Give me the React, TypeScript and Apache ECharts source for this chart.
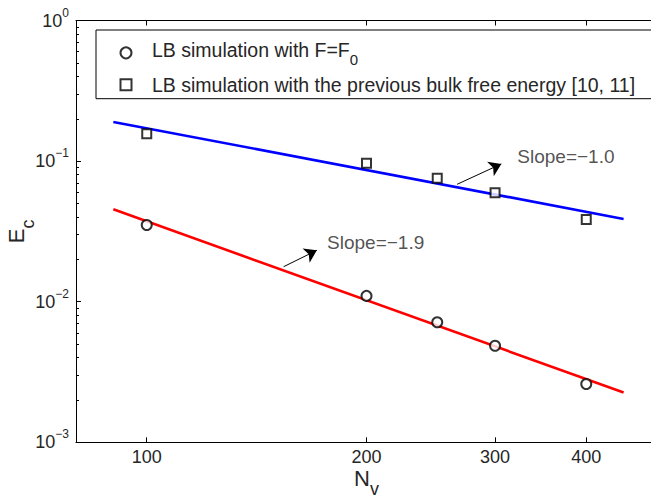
import React, { useEffect, useRef } from 'react';
import * as echarts from 'echarts';

// ---- data ----
const circleN = [100, 200, 250, 300, 400];
const circleE = [0.0351, 0.011, 0.00714, 0.00486, 0.0026];
const squareN = [100, 200, 250, 300, 400];
const squareE = [0.1566, 0.0965, 0.0754, 0.0596, 0.0384];
const fitN = [90, 450];
const fitRedE = [0.0454, 0.00226];
const fitBlueE = [0.19, 0.0388];

const xRange = [80, 500];
const yRange = [0.001, 1];
const xTicks = [100, 200, 300, 400];
const yMajor = [0.001, 0.01, 0.1, 1];
const yMinor = [
  0.002, 0.003, 0.004, 0.005, 0.006, 0.007, 0.008, 0.009,
  0.02, 0.03, 0.04, 0.05, 0.06, 0.07, 0.08, 0.09,
  0.2, 0.3, 0.4, 0.5, 0.6, 0.7, 0.8, 0.9,
];

const legendNames = [
  'LB simulation with F=F0',
  'LB simulation with the previous bulk free energy [10, 11]',
];

const slopeLabels = ['Slope=\u22121.0', 'Slope=\u22121.9'];
const slopeLabelN = [321.8, 176.6];
const slopeLabelE = [0.1087, 0.0263];
const arrowFromN = [266.2, 154.0];
const arrowFromE = [0.0684, 0.01774];
const arrowToN = [306.0, 171.0];
const arrowToE = [0.0955, 0.0232];

const L = (v: number) => Math.log10(v);
const pts = (xs: number[], ys: number[]) => xs.map((x, i) => [L(x), L(ys[i])]);

const FONT = '"Liberation Sans", Arial, Helvetica, sans-serif';
const TXT = '#262626';

export default function App() {
  const ref = useRef<HTMLDivElement>(null);
  useEffect(() => {
    if (!ref.current) return;
    const chart = echarts.init(ref.current, null, { renderer: 'svg' });
    const xTickPos = xTicks.map(L);
    const yMajorPos = yMajor.map(L);
    const yMinorPos = yMinor.map(L);

    const axisLineStyle = { color: '#000', width: 1 };
    const xBase = {
      type: 'value',
      min: L(xRange[0]),
      max: L(xRange[1]),
      splitLine: { show: false },
      axisLine: { show: true, onZero: false, lineStyle: axisLineStyle },
      axisTick: { show: true, inside: true, length: 5, customValues: xTickPos, lineStyle: axisLineStyle },
    };
    const yBase = {
      type: 'value',
      min: L(yRange[0]),
      max: L(yRange[1]),
      splitLine: { show: false },
    };

    const option: any = {
      animation: false,
      backgroundColor: '#fff',
      textStyle: { fontFamily: FONT },
      grid: {
        left: 76,
        top: 20.5,
        right: 15,
        bottom: 55.7,
        containLabel: false,
        outerBoundsMode: 'none',
      },
      legend: {
        show: true,
        orient: 'vertical',
        left: 96,
        top: 30,
        itemWidth: 11,
        itemHeight: 11,
        itemGap: 8,
        padding: [9, 60, 4, 23.5],
        borderColor: '#000',
        borderWidth: 1,
        backgroundColor: '#fff',
        selectedMode: false,
        data: legendNames,
        textStyle: {
          color: TXT,
          fontSize: 19.5,
          fontFamily: FONT,
          rich: {
            t1: { fontSize: 19.5, lineHeight: 22, color: TXT, fontFamily: FONT, padding: [0, 0, 6.6, 15.5] },
            s: { fontSize: 15, lineHeight: 22, color: TXT, fontFamily: FONT, padding: [12.7, 0, 0, 0] },
            t2: { fontSize: 19.5, lineHeight: 22, color: TXT, fontFamily: FONT, padding: [0, 0, 0, 15.5] },
          },
        },
        formatter: (name: string) =>
          name === legendNames[0] ? '{t1|LB simulation with F=F}{s|0}' : `{t2|${name}}`,
      },
      xAxis: [
        {
          ...xBase,
          position: 'bottom',
          axisLabel: {
            show: true,
            customValues: xTickPos,
            margin: 6,
            fontSize: 18,
            color: TXT,
            fontFamily: FONT,
            formatter: (v: number) => String(Math.round(Math.pow(10, v))),
          },
          name: '{a|N}{s|v}',
          nameLocation: 'middle',
          nameGap: 23,
          nameMoveOverlap: false,
          nameTextStyle: {
            color: TXT,
            rich: {
              a: { fontSize: 22, lineHeight: 26, color: TXT, fontFamily: FONT },
              s: { fontSize: 18, lineHeight: 26, color: TXT, fontFamily: FONT, padding: [22, 0, 0, 0] },
            },
          },
        },
        {
          ...xBase,
          position: 'top',
          axisLabel: { show: false },
        },
      ],
      yAxis: [
        {
          ...yBase,
          position: 'left',
          axisLine: { show: true, onZero: false, lineStyle: axisLineStyle },
          axisTick: { show: true, inside: true, length: 5, customValues: yMajorPos, lineStyle: axisLineStyle },
          axisLabel: {
            show: true,
            customValues: yMajorPos,
            margin: 7,
            color: TXT,
            fontFamily: FONT,
            formatter: (v: number) => {
              const e = Math.round(v);
              const s = e === 0 ? '0' : '\u2212' + String(-e);
              return `{b|10}{e|${s}}`;
            },
            rich: {
              b: { fontSize: 18, lineHeight: 20, color: TXT, fontFamily: FONT },
              e: { fontSize: 12, lineHeight: 20, color: TXT, fontFamily: FONT, padding: [0, 0, 16, 0] },
            },
          },
          name: '{a|E}{s|c}',
          nameLocation: 'middle',
          nameRotate: 90,
          nameGap: 47,
          nameMoveOverlap: false,
          nameTextStyle: {
            color: TXT,
            rich: {
              a: { fontSize: 22, lineHeight: 26, color: TXT, fontFamily: FONT },
              s: { fontSize: 18, lineHeight: 26, color: TXT, fontFamily: FONT, padding: [24, 0, 0, 0] },
            },
          },
        },
        {
          ...yBase,
          position: 'left',
          axisLine: { show: false, onZero: false },
          axisTick: { show: true, inside: true, length: 3, customValues: yMinorPos, lineStyle: axisLineStyle },
          axisLabel: { show: false },
        },
        {
          ...yBase,
          position: 'right',
          axisLine: { show: true, onZero: false, lineStyle: axisLineStyle },
          axisTick: { show: true, inside: true, length: 5, customValues: yMajorPos, lineStyle: axisLineStyle },
          axisLabel: { show: false },
        },
        {
          ...yBase,
          position: 'right',
          axisLine: { show: false, onZero: false },
          axisTick: { show: true, inside: true, length: 3, customValues: yMinorPos, lineStyle: axisLineStyle },
          axisLabel: { show: false },
        },
      ],
      series: [
        {
          name: 'fitRed',
          type: 'line',
          data: pts(fitN, fitRedE),
          symbol: 'none',
          showSymbol: false,
          lineStyle: { color: '#ff0000', width: 2.6 },
          z: 2,
        },
        {
          name: 'fitBlue',
          type: 'line',
          data: pts(fitN, fitBlueE),
          symbol: 'none',
          showSymbol: false,
          lineStyle: { color: '#0000ff', width: 2.6 },
          z: 2,
        },
        {
          name: legendNames[0],
          type: 'scatter',
          data: pts(circleN, circleE),
          symbol: 'emptyCircle',
          symbolSize: 10,
          itemStyle: { color: '#000', borderColor: '#000', borderWidth: 2 },
          z: 3,
        },
        {
          name: legendNames[1],
          type: 'scatter',
          data: pts(squareN, squareE),
          symbol: 'emptyRect',
          symbolSize: 9,
          itemStyle: { color: '#000', borderColor: '#000', borderWidth: 2 },
          z: 3,
        },
        {
          name: 'annotations',
          type: 'scatter',
          symbolSize: 0,
          silent: true,
          itemStyle: { color: 'rgba(0,0,0,0)' },
          data: slopeLabels.map((s, i) => ({ name: s, value: [L(slopeLabelN[i]), L(slopeLabelE[i])] })),
          label: {
            show: true,
            position: 'right',
            distance: 0,
            formatter: '{b}',
            fontSize: 19,
            color: TXT,
            fontFamily: FONT,
          },
          markLine: {
            silent: true,
            symbol: ['none', 'arrow'],
            symbolSize: 12,
            label: { show: false },
            lineStyle: { color: '#000', width: 1, type: 'solid' },
            itemStyle: { color: '#000' },
            data: arrowFromN.map((n, i) => [
              { coord: [L(n), L(arrowFromE[i])] },
              { coord: [L(arrowToN[i]), L(arrowToE[i])] },
            ]),
          },
          z: 4,
        },
      ],
    };
    chart.setOption(option);
    return () => chart.dispose();
  }, []);

  return (
    <div
      style={{
        position: 'fixed',
        left: 0,
        top: 0,
        width: 651,
        height: 498,
        overflow: 'hidden',
        background: '#fff',
      }}
    >
      <div ref={ref} style={{ width: 672, height: 498 }} />
    </div>
  );
}
